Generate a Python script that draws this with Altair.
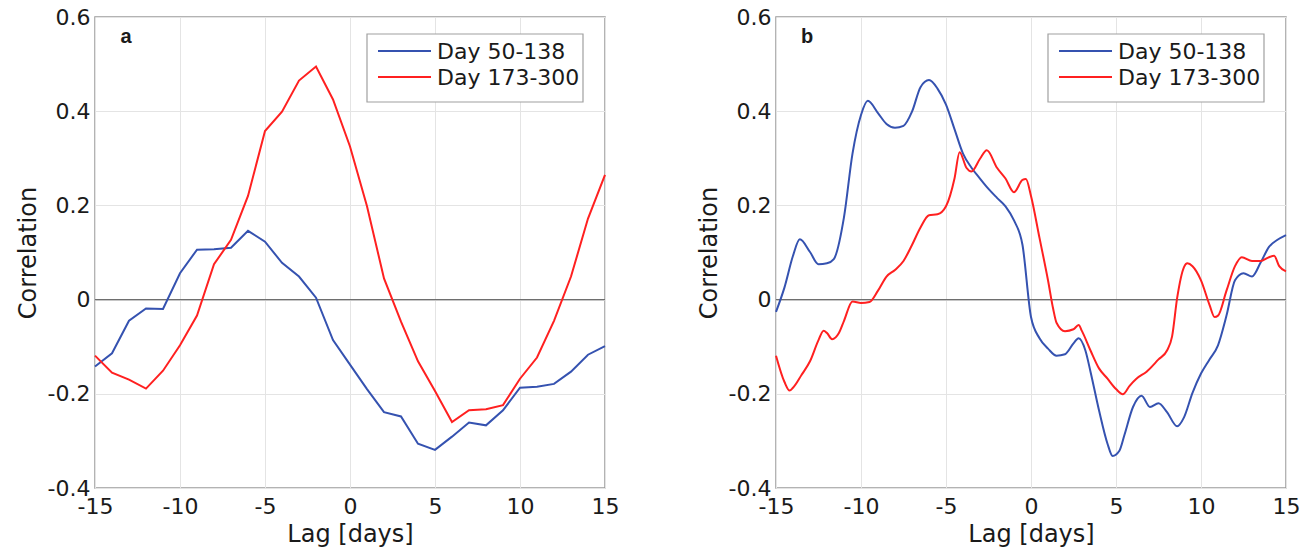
import altair as alt
import pandas as pd

# ---- panel a: daily lags ----
lag_a = list(range(-15, 16))
a_early = [-0.142, -0.114, -0.045, -0.019, -0.020, 0.056, 0.106, 0.107, 0.110, 0.146,
           0.123, 0.078, 0.049, 0.004, -0.086, -0.138, -0.190, -0.239, -0.248, -0.306,
           -0.319, -0.291, -0.261, -0.267, -0.235, -0.187, -0.185, -0.179, -0.153, -0.117,
           -0.099]
a_late = [-0.119, -0.155, -0.170, -0.189, -0.151, -0.097, -0.034, 0.075, 0.127, 0.220,
          0.358, 0.399, 0.465, 0.495, 0.425, 0.325, 0.198, 0.045, -0.047, -0.131,
          -0.194, -0.260, -0.235, -0.233, -0.224, -0.168, -0.123, -0.045, 0.049, 0.172,
          0.265]

# ---- panel b: smoothed curves ----
lag_b_early = [-15, -14.5, -14, -13.6, -13, -12.5, -12, -11.6, -11, -10.5, -10, -9.6, -9,
               -8.5, -8, -7.5, -7, -6.5, -6, -5.5, -5, -4.5, -4, -3.5, -3, -2.5, -2, -1.5,
               -1, -0.5, 0, 0.5, 1, 1.5, 2, 2.5, 2.8, 3.2, 3.5, 4, 4.5, 4.8, 5.2, 5.5, 6,
               6.5, 7, 7.5, 8, 8.6, 9, 9.5, 10, 10.5, 11, 11.5, 12, 12.5, 13, 13.5, 14,
               14.5, 15]
b_early = [-0.026, 0.026, 0.093, 0.128, 0.101, 0.075, 0.077, 0.086, 0.175, 0.310, 0.392,
           0.422, 0.396, 0.373, 0.365, 0.369, 0.399, 0.451, 0.466, 0.448, 0.414, 0.362,
           0.310, 0.280, 0.257, 0.235, 0.216, 0.198, 0.168, 0.116, -0.037, -0.082, -0.104,
           -0.119, -0.116, -0.093, -0.082, -0.108, -0.153, -0.235, -0.306, -0.332, -0.321,
           -0.287, -0.228, -0.204, -0.228, -0.220, -0.239, -0.269, -0.250, -0.198, -0.157,
           -0.127, -0.097, -0.034, 0.041, 0.056, 0.049, 0.078, 0.112, 0.127, 0.137]

lag_b_late = [-15, -14.5, -14.2, -14, -13.5, -13, -12.5, -12.2, -12, -11.7, -11.3, -11,
              -10.5, -10, -9.5, -9, -8.5, -8, -7.5, -7, -6.5, -6, -5.5, -5, -4.5, -4.2,
              -3.8, -3.5, -3, -2.6, -2, -1.5, -1, -0.5, -0.3, 0, 0.5, 1, 1.3, 1.5, 2, 2.5,
              2.8, 3, 3.5, 4, 4.5, 5, 5.4, 5.8, 6.2, 6.8, 7.5, 8, 8.3, 8.6, 9, 9.2, 9.5,
              10, 10.5, 10.8, 11, 11.5, 12, 12.4, 13, 13.5, 14, 14.3, 14.6, 15]
b_late = [-0.119, -0.175, -0.193, -0.187, -0.160, -0.131, -0.086, -0.066, -0.071, -0.084,
          -0.071, -0.045, -0.004, -0.007, -0.005, 0.019, 0.049, 0.063, 0.082, 0.116, 0.153,
          0.179, 0.181, 0.198, 0.257, 0.313, 0.280, 0.272, 0.299, 0.317, 0.280, 0.257,
          0.228, 0.254, 0.256, 0.220, 0.131, 0.041, -0.019, -0.049, -0.067, -0.063, -0.054,
          -0.067, -0.108, -0.146, -0.168, -0.190, -0.201, -0.183, -0.168, -0.153, -0.127,
          -0.108, -0.078, 0.004, 0.069, 0.077, 0.071, 0.041, -0.011, -0.037, -0.034, 0.019,
          0.071, 0.090, 0.082, 0.082, 0.090, 0.093, 0.071, 0.060]

periods = ["Day 50-138", "Day 173-300"]
colors = ["#3552b0", "#ff2020"]
x_ticks = [-15, -10, -5, 0, 5, 10, 15]
y_ticks = [-0.4, -0.2, 0, 0.2, 0.4, 0.6]

one = pd.DataFrame({"k": [0]})


def frame(lags_1, vals_1, lags_2, vals_2):
    d1 = pd.DataFrame({"lag": lags_1, "r": vals_1, "period": periods[0]})
    d2 = pd.DataFrame({"lag": lags_2, "r": vals_2, "period": periods[1]})
    return pd.concat([d1, d2], ignore_index=True)


def legend_box():
    """Boxed legend in the upper-right corner of a panel."""
    box = alt.Chart(one).mark_rect(fill="white", stroke="#a0a0a0", strokeWidth=1.2).encode(
        x=alt.value(272), x2=alt.value(488), y=alt.value(17), y2=alt.value(85)
    )
    parts = [box]
    for i, (name, col) in enumerate(zip(periods, colors)):
        yy = 34 + 26 * i
        parts.append(
            alt.Chart(one).mark_rule(color=col, strokeWidth=2).encode(
                x=alt.value(283), x2=alt.value(336), y=alt.value(yy)
            )
        )
        parts.append(
            alt.Chart(one).mark_text(
                text=name, font="DejaVu Sans", fontSize=22, color="#1a1a1a",
                align="left", baseline="middle",
            ).encode(x=alt.value(342), y=alt.value(yy + 1))
        )
    return parts


def panel(df, letter, interp):
    x = alt.X(
        "lag:Q",
        scale=alt.Scale(domain=[-15, 15], nice=False, zero=False),
        axis=alt.Axis(
            values=x_ticks, title="Lag [days]", labelFlush=False,
            labelExpr="datum.value < 0 ? '-' + format(abs(datum.value), 'd') : format(datum.value, 'd')",
        ),
    )
    y = alt.Y(
        "r:Q",
        scale=alt.Scale(domain=[-0.4, 0.6], nice=False, zero=False),
        axis=alt.Axis(
            values=y_ticks, title="Correlation",
            labelExpr="abs(datum.value) < 1e-9 ? '0' : (datum.value < 0 ? '-' + format(abs(datum.value), '.1f') : format(datum.value, '.1f'))",
        ),
    )
    lines = alt.Chart(df).mark_line(strokeWidth=2, interpolate=interp).encode(
        x=x, y=y,
        color=alt.Color("period:N", scale=alt.Scale(domain=periods, range=colors), legend=None),
        order="lag:Q",
    )
    zero = alt.Chart(one).mark_rule(color="#6e6e6e", strokeWidth=1.2).encode(y=alt.datum(0))
    tag = alt.Chart(one).mark_text(
        text=letter, font="Liberation Sans", fontWeight="bold", fontSize=20, color="#1a1a1a",
        align="center", baseline="middle",
    ).encode(x=alt.value(31), y=alt.value(20))
    return alt.layer(zero, lines, tag, *legend_box()).properties(width=510, height=471)


pa = panel(frame(lag_a, a_early, lag_a, a_late), "a", "linear")
pb = panel(frame(lag_b_early, b_early, lag_b_late, b_late), "b", "monotone")

chart = (
    alt.hconcat(pa, pb, spacing=76)
    .properties(padding={"left": 15, "top": 5, "right": 5, "bottom": 0})
    .configure(font="DejaVu Sans")
    .configure_view(stroke="#9a9a9a", strokeWidth=1.5)
    .configure_axis(
        domain=False, ticks=False, tickSize=0,
        grid=True, gridColor="#e4e4e4", gridWidth=1,
        labelFont="DejaVu Sans", labelFontSize=22, labelColor="#1a1a1a", labelPadding=5,
        titleFont="DejaVu Sans", titleFontSize=24, titleFontWeight="normal", titleColor="#1a1a1a",
    )
    .configure_axisX(labelPadding=8, titlePadding=5)
    .configure_axisY(titlePadding=7)
)

chart.save("out.html", embed_options={"renderer": "svg", "actions": False})
